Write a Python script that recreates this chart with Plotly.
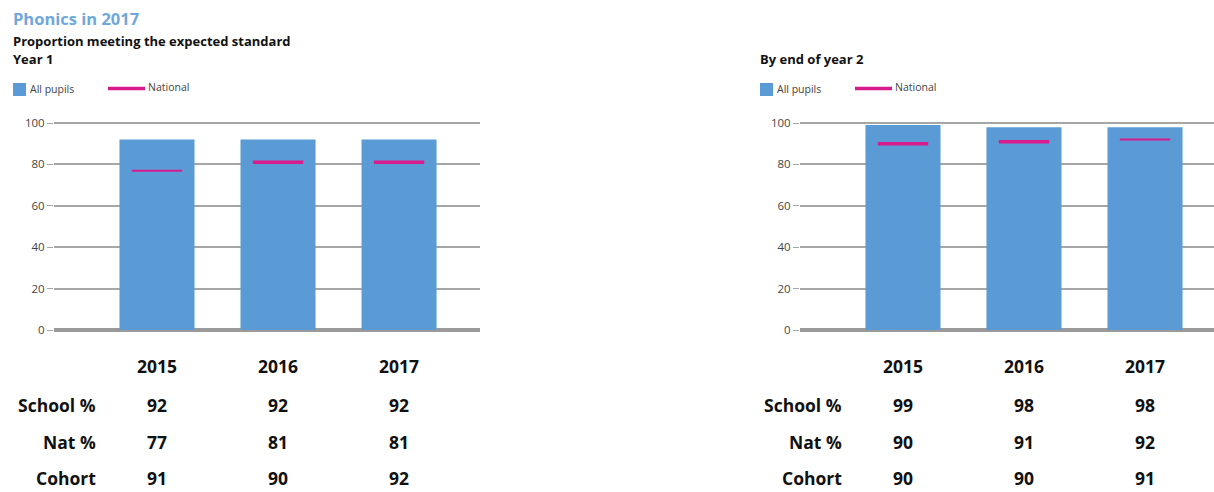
import plotly.graph_objects as go

W, H = 1214, 492

years = ["2015", "2016", "2017"]
y1_school = [92, 92, 92]
y1_nat = [77, 81, 81]
y1_cohort = [91, 90, 92]
y2_school = [99, 98, 98]
y2_nat = [90, 91, 92]
y2_cohort = [90, 90, 91]
row_labels = ["School %", "Nat %", "Cohort"]
y_ticks = [0, 20, 40, 60, 80, 100]

BLUE = "#5b9bd5"
PINK = "#d81b8c"
GRID = "#a6a6a6"
FONT = "Open Sans"


def px(x):
    return x / W


def py(y):
    return 1 - y / H


fig = go.Figure()

panels = [
    dict(xa="x", ya="y", school=y1_school, nat=y1_nat, cohort=y1_cohort,
         dom=[54, 480], rng=[-0.851, 2.669], nat_w=[2, 3.5, 3.5], lab_x=98),
    dict(xa="x2", ya="y2", school=y2_school, nat=y2_nat, cohort=y2_cohort,
         dom=[800, 1214], rng=[-0.851, 2.57], nat_w=[3.5, 3.5, 2], lab_x=844),
]

for i, p in enumerate(panels):
    idx = list(range(len(years)))
    fig.add_trace(go.Bar(x=idx, y=p["school"], xaxis=p["xa"], yaxis=p["ya"],
                         width=0.62, marker=dict(color=BLUE, line=dict(width=0)),
                         showlegend=False, hoverinfo="y"))
    fig.add_trace(go.Scatter(x=idx, y=p["nat"], xaxis=p["xa"], yaxis=p["ya"], mode="markers",
                             marker=dict(symbol="line-ew", size=36, color=PINK,
                                         line=dict(color=PINK, width=p["nat_w"])),
                             showlegend=False, hoverinfo="y"))
    sfx = "" if i == 0 else str(i + 1)
    fig.layout["xaxis" + sfx] = dict(domain=[px(p["dom"][0]), px(p["dom"][1])], range=p["rng"],
                                     showticklabels=False, showgrid=False, zeroline=False,
                                     showline=False, fixedrange=True, anchor="y" + sfx,
                                     automargin=False)
    fig.layout["yaxis" + sfx] = dict(domain=[py(330), py(122)], range=[0, 100.5],
                                     tickvals=y_ticks, ticks="outside", ticklen=6, tickcolor=GRID,
                                     tickfont=dict(family=FONT, size=11.5, color="#444"),
                                     showgrid=True, gridcolor=GRID, gridwidth=1.5,
                                     zeroline=True, zerolinecolor="#9a9a9a", zerolinewidth=3.5,
                                     showline=False, anchor="x" + sfx, fixedrange=True,
                                     automargin=False)
    for j, yr in enumerate(years):
        fig.add_annotation(x=j, y=py(366), xref=p["xa"], yref="paper", text="<b>%s</b>" % yr,
                           showarrow=False, font=dict(family=FONT, size=17.5, color="#111"),
                           xanchor="center", yanchor="middle")
        for k, vals in enumerate([p["school"], p["nat"], p["cohort"]]):
            fig.add_annotation(x=j, y=py(405 + 36.5 * k), xref=p["xa"], yref="paper",
                               text="<b>%d</b>" % vals[j], showarrow=False,
                               font=dict(family=FONT, size=17.5, color="#111"),
                               xanchor="center", yanchor="middle")
    for k, lab in enumerate(row_labels):
        fig.add_annotation(x=px(p["lab_x"]), y=py(405 + 36.5 * k), xref="paper", yref="paper",
                           text="<b>%s</b>" % lab, showarrow=False,
                           font=dict(family=FONT, size=17.5, color="#111"),
                           xanchor="right", yanchor="middle")

fig.add_annotation(x=px(11), y=py(19), xref="paper", yref="paper", text="<b>Phonics in 2017</b>",
                   showarrow=False, xanchor="left", yanchor="middle",
                   font=dict(family=FONT, size=16.5, color="#6fa8dc"))
fig.add_annotation(x=px(11), y=py(41), xref="paper", yref="paper",
                   text="<b>Proportion meeting the expected standard</b>",
                   showarrow=False, xanchor="left", yanchor="middle",
                   font=dict(family=FONT, size=13, color="#111"))
fig.add_annotation(x=px(11), y=py(59), xref="paper", yref="paper", text="<b>Year 1</b>",
                   showarrow=False, xanchor="left", yanchor="middle",
                   font=dict(family=FONT, size=13, color="#111"))
fig.add_annotation(x=px(758), y=py(59), xref="paper", yref="paper", text="<b>By end of year 2</b>",
                   showarrow=False, xanchor="left", yanchor="middle",
                   font=dict(family=FONT, size=13, color="#111"))

for off in [0, 747]:
    fig.add_shape(type="rect", xref="paper", yref="paper",
                  x0=px(13 + off), x1=px(26 + off), y0=py(96), y1=py(83),
                  fillcolor=BLUE, line=dict(width=0))
    fig.add_annotation(x=px(28 + off), y=py(89), xref="paper", yref="paper", text="All pupils",
                       showarrow=False, xanchor="left", yanchor="middle",
                       font=dict(family=FONT, size=10.5, color="#444"))
    fig.add_shape(type="line", xref="paper", yref="paper",
                  x0=px(108 + off), x1=px(145 + off), y0=py(88.5), y1=py(88.5),
                  line=dict(color=PINK, width=3.5))
    fig.add_annotation(x=px(146 + off), y=py(87), xref="paper", yref="paper", text="National",
                       showarrow=False, xanchor="left", yanchor="middle",
                       font=dict(family=FONT, size=10.5, color="#444"))

fig.update_layout(width=W, height=H, margin=dict(l=0, r=0, t=0, b=0, pad=0, autoexpand=False),
                  paper_bgcolor="white", plot_bgcolor="white", bargap=0.38)

fig.write_html("out.html", config={"displayModeBar": False},
               post_script="document.body.style.margin='0px';document.body.style.overflow='hidden';")
